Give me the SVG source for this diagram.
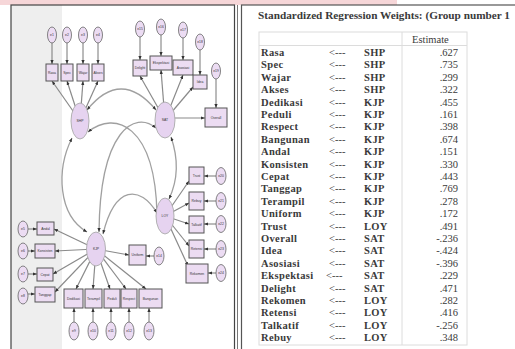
<svg xmlns="http://www.w3.org/2000/svg" width="515" height="349" viewBox="0 0 515 349">
<style>
.err{fill:#ecdcf3;stroke:#666;stroke-width:0.8}
.lat{fill:#e6d3f0;stroke:#aaa;stroke-width:0.9}
.box{fill:#ecdcf2;stroke:#555;stroke-width:1}
.lbl{font-family:"Liberation Sans",Arial,sans-serif;font-size:3.4px;fill:#333;text-anchor:middle}
.p{stroke:#8a8a8a;stroke-width:1.2;fill:none}
.e{stroke:#777;stroke-width:1;fill:none}
.c{stroke:#a0a0a0;stroke-width:1.3;fill:none}
.t{font-family:"Liberation Serif","Times New Roman",serif;font-size:10.5px;fill:#3a3a3a}
.b{font-weight:bold;letter-spacing:0.35px}
.v{text-anchor:end}
.grid{stroke:#dcdcdc;stroke-width:1;fill:none}
</style>
<defs>
<marker id="ah" viewBox="0 0 10 10" refX="10" refY="5" markerWidth="4" markerHeight="4" markerUnits="userSpaceOnUse" orient="auto-start-reverse"><path d="M0,1 L10,5 L0,9 z" fill="#333"/></marker>
</defs>
<rect width="515" height="349" fill="#fff"/>
<rect x="0" y="0" width="397" height="5" fill="#f6d6d8"/>
<rect x="11" y="5" width="51" height="350" fill="#eeeeee"/>
<rect x="11" y="5" width="223.5" height="350" fill="none" stroke="#444" stroke-width="1.2"/>
<line x1="237.5" y1="5" x2="237.5" y2="349" stroke="#777" stroke-width="1"/>
<rect x="241.5" y="5" width="280" height="350" fill="none" stroke="#555" stroke-width="1.2"/>
<g id="connectors">
<line class="e" x1="52" y1="43" x2="52" y2="64" marker-end="url(#ah)"/>
<line class="e" x1="67" y1="43" x2="67" y2="64" marker-end="url(#ah)"/>
<line class="e" x1="83" y1="43" x2="83" y2="64" marker-end="url(#ah)"/>
<line class="e" x1="98" y1="43" x2="98" y2="64" marker-end="url(#ah)"/>
<line class="p" x1="80" y1="121" x2="52" y2="81" marker-end="url(#ah)"/>
<line class="p" x1="80" y1="121" x2="67" y2="81" marker-end="url(#ah)"/>
<line class="p" x1="80" y1="121" x2="83" y2="81" marker-end="url(#ah)"/>
<line class="p" x1="80" y1="121" x2="98" y2="81" marker-end="url(#ah)"/>
<line class="e" x1="140" y1="37" x2="140" y2="60" marker-end="url(#ah)"/>
<line class="e" x1="161" y1="35" x2="161" y2="56" marker-end="url(#ah)"/>
<line class="e" x1="183" y1="38" x2="183" y2="60" marker-end="url(#ah)"/>
<line class="e" x1="200" y1="50" x2="200" y2="75" marker-end="url(#ah)"/>
<line class="e" x1="216" y1="79" x2="216" y2="108" marker-end="url(#ah)"/>
<line class="p" x1="165" y1="120" x2="140" y2="76" marker-end="url(#ah)"/>
<line class="p" x1="165" y1="120" x2="161" y2="70" marker-end="url(#ah)"/>
<line class="p" x1="165" y1="120" x2="183" y2="75" marker-end="url(#ah)"/>
<line class="p" x1="165" y1="120" x2="193" y2="87" marker-end="url(#ah)"/>
<line class="p" x1="165" y1="118" x2="205" y2="118" marker-end="url(#ah)"/>
<line class="e" x1="216" y1="176" x2="204" y2="176" marker-end="url(#ah)"/>
<line class="e" x1="216" y1="201" x2="204" y2="201" marker-end="url(#ah)"/>
<line class="e" x1="216" y1="224" x2="204" y2="224" marker-end="url(#ah)"/>
<line class="e" x1="216" y1="249" x2="204" y2="249" marker-end="url(#ah)"/>
<line class="e" x1="216" y1="273" x2="208" y2="273" marker-end="url(#ah)"/>
<line class="p" x1="165" y1="216" x2="189" y2="181" marker-end="url(#ah)"/>
<line class="p" x1="165" y1="216" x2="189" y2="203" marker-end="url(#ah)"/>
<line class="p" x1="165" y1="216" x2="189" y2="224" marker-end="url(#ah)"/>
<line class="p" x1="165" y1="216" x2="189" y2="246" marker-end="url(#ah)"/>
<line class="p" x1="165" y1="216" x2="188" y2="266" marker-end="url(#ah)"/>
<line class="e" x1="28" y1="229" x2="37" y2="229" marker-end="url(#ah)"/>
<line class="e" x1="28" y1="251" x2="35" y2="251" marker-end="url(#ah)"/>
<line class="e" x1="28" y1="274" x2="37" y2="274" marker-end="url(#ah)"/>
<line class="e" x1="28" y1="294" x2="35" y2="294" marker-end="url(#ah)"/>
<line class="e" x1="74" y1="322" x2="74" y2="308" marker-end="url(#ah)"/>
<line class="e" x1="93" y1="322" x2="93" y2="308" marker-end="url(#ah)"/>
<line class="e" x1="111" y1="322" x2="111" y2="308" marker-end="url(#ah)"/>
<line class="e" x1="129" y1="322" x2="129" y2="308" marker-end="url(#ah)"/>
<line class="e" x1="149" y1="322" x2="149" y2="308" marker-end="url(#ah)"/>
<line class="e" x1="154" y1="256" x2="146" y2="256" marker-end="url(#ah)"/>
<line class="p" x1="96" y1="249" x2="54" y2="229" marker-end="url(#ah)"/>
<line class="p" x1="96" y1="249" x2="55" y2="251" marker-end="url(#ah)"/>
<line class="p" x1="96" y1="249" x2="53" y2="274" marker-end="url(#ah)"/>
<line class="p" x1="96" y1="249" x2="55" y2="292" marker-end="url(#ah)"/>
<line class="p" x1="96" y1="249" x2="76" y2="289" marker-end="url(#ah)"/>
<line class="p" x1="96" y1="249" x2="93" y2="289" marker-end="url(#ah)"/>
<line class="p" x1="96" y1="249" x2="110" y2="289" marker-end="url(#ah)"/>
<line class="p" x1="96" y1="249" x2="126" y2="289" marker-end="url(#ah)"/>
<line class="p" x1="96" y1="249" x2="146" y2="289" marker-end="url(#ah)"/>
<line class="p" x1="96" y1="249" x2="129" y2="255" marker-end="url(#ah)"/>
<path class="c" d="M87,110 Q121,68 156,110" marker-start="url(#ah)" marker-end="url(#ah)"/>
<path class="c" d="M72,138 C56,170 58,215 87,232" marker-start="url(#ah)" marker-end="url(#ah)"/>
<path class="c" d="M88,132 C115,110 155,125 157,214" marker-start="url(#ah)" marker-end="url(#ah)"/>
<path class="c" d="M156,128 C135,110 100,130 99,232" marker-start="url(#ah)" marker-end="url(#ah)"/>
<path class="c" d="M171,137 C179,160 178,180 169,199" marker-start="url(#ah)" marker-end="url(#ah)"/>
<path class="c" d="M103,234 C115,185 140,185 157,213" marker-start="url(#ah)" marker-end="url(#ah)"/>
</g>
<g id="SHP"><ellipse class="lat" cx="80" cy="121" rx="9" ry="18"/><text class="lbl" x="80" y="122">SHP</text></g>
<g id="e1"><ellipse class="err" cx="52" cy="35" rx="4.5" ry="8"/><text class="lbl" x="52" y="36">e1</text></g>
<g id="e2"><ellipse class="err" cx="67" cy="35" rx="4.5" ry="8"/><text class="lbl" x="67" y="36">e2</text></g>
<g id="e3"><ellipse class="err" cx="83" cy="35" rx="4.5" ry="8"/><text class="lbl" x="83" y="36">e3</text></g>
<g id="e4"><ellipse class="err" cx="98" cy="35" rx="4.5" ry="8"/><text class="lbl" x="98" y="36">e4</text></g>
<g id="Rasa"><rect class="box" x="46" y="64" width="12" height="17"/><text class="lbl" x="52" y="73.5">Rasa</text></g>
<g id="Spec"><rect class="box" x="61" y="64" width="12" height="17"/><text class="lbl" x="67" y="73.5">Spec</text></g>
<g id="Wajar"><rect class="box" x="77" y="64" width="12" height="17"/><text class="lbl" x="83" y="73.5">Wajar</text></g>
<g id="Akses"><rect class="box" x="92" y="64" width="12" height="17"/><text class="lbl" x="98" y="73.5">Akses</text></g>
<g id="SAT"><ellipse class="lat" cx="165" cy="120" rx="10" ry="18"/><text class="lbl" x="165" y="121">SAT</text></g>
<g id="e15"><ellipse class="err" cx="140" cy="29" rx="4.5" ry="8"/><text class="lbl" x="140" y="30">e15</text></g>
<g id="e16"><ellipse class="err" cx="161" cy="27" rx="4.5" ry="8"/><text class="lbl" x="161" y="28">e16</text></g>
<g id="e17"><ellipse class="err" cx="183" cy="30" rx="4.5" ry="8"/><text class="lbl" x="183" y="31">e17</text></g>
<g id="e18"><ellipse class="err" cx="200" cy="42" rx="4.5" ry="8"/><text class="lbl" x="200" y="43">e18</text></g>
<g id="e19"><ellipse class="err" cx="216" cy="71" rx="4.5" ry="8"/><text class="lbl" x="216" y="72">e19</text></g>
<g id="Delight"><rect class="box" x="133" y="60" width="14" height="16"/><text class="lbl" x="140" y="69">Delight</text></g>
<g id="Ekspektasi"><rect class="box" x="150" y="56" width="22" height="14"/><text class="lbl" x="161" y="64">Ekspektasi</text></g>
<g id="Asosiasi"><rect class="box" x="173" y="60" width="20" height="15"/><text class="lbl" x="183" y="68.5">Asosiasi</text></g>
<g id="Idea"><rect class="box" x="193" y="75" width="14" height="14"/><text class="lbl" x="200" y="83">Idea</text></g>
<g id="Overall"><rect class="box" x="205" y="108" width="22" height="19"/><text class="lbl" x="216" y="118.5">Overall</text></g>
<g id="LOY"><ellipse class="lat" cx="165" cy="216" rx="9" ry="18"/><text class="lbl" x="165" y="217">LOY</text></g>
<g id="Trust"><rect class="box" x="189" y="167" width="15" height="17"/><text class="lbl" x="196.5" y="176.5">Trust</text></g>
<g id="Rebuy"><rect class="box" x="189" y="192" width="15" height="18"/><text class="lbl" x="196.5" y="202">Rebuy</text></g>
<g id="Talkatif"><rect class="box" x="189" y="216" width="15" height="17"/><text class="lbl" x="196.5" y="225.5">Talkatif</text></g>
<g id="Retensi"><rect class="box" x="189" y="240" width="15" height="18"/><text class="lbl" x="196.5" y="250">Retensi</text></g>
<g id="Rekomen"><rect class="box" x="186" y="264" width="22" height="19"/><text class="lbl" x="197" y="274.5">Rekomen</text></g>
<g id="e20"><ellipse class="err" cx="221" cy="176" rx="5" ry="8.5"/><text class="lbl" x="221" y="177">e20</text></g>
<g id="e21"><ellipse class="err" cx="221" cy="201" rx="5" ry="8.5"/><text class="lbl" x="221" y="202">e21</text></g>
<g id="e22"><ellipse class="err" cx="221" cy="224" rx="5" ry="8.5"/><text class="lbl" x="221" y="225">e22</text></g>
<g id="e23"><ellipse class="err" cx="221" cy="249" rx="5" ry="8.5"/><text class="lbl" x="221" y="250">e23</text></g>
<g id="e24"><ellipse class="err" cx="221" cy="273" rx="5" ry="8.5"/><text class="lbl" x="221" y="274">e24</text></g>
<g id="KJP"><ellipse class="lat" cx="96" cy="249" rx="9.5" ry="17"/><text class="lbl" x="96" y="250">KJP</text></g>
<g id="Andal"><rect class="box" x="37" y="222" width="17" height="13"/><text class="lbl" x="45.5" y="229.5">Andal</text></g>
<g id="Konsisten"><rect class="box" x="35" y="244" width="20" height="14"/><text class="lbl" x="45" y="252">Konsisten</text></g>
<g id="Cepat"><rect class="box" x="37" y="268" width="16" height="13"/><text class="lbl" x="45" y="275.5">Cepat</text></g>
<g id="Tanggap"><rect class="box" x="35" y="287" width="20" height="15"/><text class="lbl" x="45" y="295.5">Tanggap</text></g>
<g id="e5"><ellipse class="err" cx="23" cy="229" rx="5" ry="8"/><text class="lbl" x="23" y="230">e5</text></g>
<g id="e6"><ellipse class="err" cx="23" cy="251" rx="5" ry="8"/><text class="lbl" x="23" y="252">e6</text></g>
<g id="e7"><ellipse class="err" cx="23" cy="274" rx="5" ry="8"/><text class="lbl" x="23" y="275">e7</text></g>
<g id="e8"><ellipse class="err" cx="23" cy="296" rx="5" ry="8"/><text class="lbl" x="23" y="297">e8</text></g>
<g id="Dedikasi"><rect class="box" x="64" y="289" width="19" height="19"/><text class="lbl" x="73.5" y="299.5">Dedikasi</text></g>
<g id="Terampil"><rect class="box" x="85" y="289" width="17" height="19"/><text class="lbl" x="93.5" y="299.5">Terampil</text></g>
<g id="Peduli"><rect class="box" x="104" y="289" width="16" height="19"/><text class="lbl" x="112" y="299.5">Peduli</text></g>
<g id="Respect"><rect class="box" x="121" y="289" width="16" height="19"/><text class="lbl" x="129" y="299.5">Respect</text></g>
<g id="Bangunan"><rect class="box" x="139" y="289" width="23" height="19"/><text class="lbl" x="150.5" y="299.5">Bangunan</text></g>
<g id="e9"><ellipse class="err" cx="74" cy="331" rx="5" ry="9"/><text class="lbl" x="74" y="332">e9</text></g>
<g id="e10"><ellipse class="err" cx="93" cy="331" rx="5" ry="9"/><text class="lbl" x="93" y="332">e10</text></g>
<g id="e11"><ellipse class="err" cx="111" cy="331" rx="5" ry="9"/><text class="lbl" x="111" y="332">e11</text></g>
<g id="e12"><ellipse class="err" cx="129" cy="331" rx="5" ry="9"/><text class="lbl" x="129" y="332">e12</text></g>
<g id="e13"><ellipse class="err" cx="149" cy="331" rx="5" ry="9"/><text class="lbl" x="149" y="332">e13</text></g>
<g id="Uniform"><rect class="box" x="129" y="245" width="17" height="20"/><text class="lbl" x="137.5" y="256">Uniform</text></g>
<g id="e14"><ellipse class="err" cx="159" cy="256" rx="5" ry="9"/><text class="lbl" x="159" y="257">e14</text></g>
<g id="table">
<text class="t" x="258" y="19" font-size="10.5" font-weight="bold" textLength="252" lengthAdjust="spacingAndGlyphs">Standardized Regression Weights: (Group number 1</text>
<rect class="grid" x="259" y="32" width="208" height="313"/>
<line class="grid" x1="259" y1="45.5" x2="467" y2="45.5"/>
<line class="grid" x1="402" y1="32" x2="402" y2="345"/>
<text class="t" x="412" y="42.5" font-size="11.5">Estimate</text>
<g class="t">
<text x="261" y="56" class="b">Rasa</text><text x="329" y="56">&lt;---</text><text x="364" y="56" class="b">SHP</text><text x="458" y="56" class="v">.627</text>
<text x="261" y="68.4" class="b">Spec</text><text x="329" y="68.4">&lt;---</text><text x="364" y="68.4" class="b">SHP</text><text x="458" y="68.4" class="v">.735</text>
<text x="261" y="80.8" class="b">Wajar</text><text x="329" y="80.8">&lt;---</text><text x="364" y="80.8" class="b">SHP</text><text x="458" y="80.8" class="v">.299</text>
<text x="261" y="93.2" class="b">Akses</text><text x="329" y="93.2">&lt;---</text><text x="364" y="93.2" class="b">SHP</text><text x="458" y="93.2" class="v">.322</text>
<text x="261" y="105.6" class="b">Dedikasi</text><text x="329" y="105.6">&lt;---</text><text x="364" y="105.6" class="b">KJP</text><text x="458" y="105.6" class="v">.455</text>
<text x="261" y="118" class="b">Peduli</text><text x="329" y="118">&lt;---</text><text x="364" y="118" class="b">KJP</text><text x="458" y="118" class="v">.161</text>
<text x="261" y="130.4" class="b">Respect</text><text x="329" y="130.4">&lt;---</text><text x="364" y="130.4" class="b">KJP</text><text x="458" y="130.4" class="v">.398</text>
<text x="261" y="142.8" class="b">Bangunan</text><text x="329" y="142.8">&lt;---</text><text x="364" y="142.8" class="b">KJP</text><text x="458" y="142.8" class="v">.674</text>
<text x="261" y="155.2" class="b">Andal</text><text x="329" y="155.2">&lt;---</text><text x="364" y="155.2" class="b">KJP</text><text x="458" y="155.2" class="v">.151</text>
<text x="261" y="167.6" class="b">Konsisten</text><text x="329" y="167.6">&lt;---</text><text x="364" y="167.6" class="b">KJP</text><text x="458" y="167.6" class="v">.330</text>
<text x="261" y="180" class="b">Cepat</text><text x="329" y="180">&lt;---</text><text x="364" y="180" class="b">KJP</text><text x="458" y="180" class="v">.443</text>
<text x="261" y="192.4" class="b">Tanggap</text><text x="329" y="192.4">&lt;---</text><text x="364" y="192.4" class="b">KJP</text><text x="458" y="192.4" class="v">.769</text>
<text x="261" y="204.8" class="b">Terampil</text><text x="329" y="204.8">&lt;---</text><text x="364" y="204.8" class="b">KJP</text><text x="458" y="204.8" class="v">.278</text>
<text x="261" y="217.2" class="b">Uniform</text><text x="329" y="217.2">&lt;---</text><text x="364" y="217.2" class="b">KJP</text><text x="458" y="217.2" class="v">.172</text>
<text x="261" y="229.6" class="b">Trust</text><text x="329" y="229.6">&lt;---</text><text x="364" y="229.6" class="b">LOY</text><text x="458" y="229.6" class="v">.491</text>
<text x="261" y="242" class="b">Overall</text><text x="329" y="242">&lt;---</text><text x="364" y="242" class="b">SAT</text><text x="458" y="242" class="v">-.236</text>
<text x="261" y="254.4" class="b">Idea</text><text x="329" y="254.4">&lt;---</text><text x="364" y="254.4" class="b">SAT</text><text x="458" y="254.4" class="v">-.424</text>
<text x="261" y="266.8" class="b">Asosiasi</text><text x="329" y="266.8">&lt;---</text><text x="364" y="266.8" class="b">SAT</text><text x="458" y="266.8" class="v">-.396</text>
<text x="261" y="279.2" class="b">Ekspektasi</text><text x="326" y="279.2">&lt;---</text><text x="364" y="279.2" class="b">SAT</text><text x="458" y="279.2" class="v">.229</text>
<text x="261" y="291.6" class="b">Delight</text><text x="329" y="291.6">&lt;---</text><text x="364" y="291.6" class="b">SAT</text><text x="458" y="291.6" class="v">.471</text>
<text x="261" y="304" class="b">Rekomen</text><text x="329" y="304">&lt;---</text><text x="364" y="304" class="b">LOY</text><text x="458" y="304" class="v">.282</text>
<text x="261" y="316.4" class="b">Retensi</text><text x="329" y="316.4">&lt;---</text><text x="364" y="316.4" class="b">LOY</text><text x="458" y="316.4" class="v">.416</text>
<text x="261" y="328.8" class="b">Talkatif</text><text x="329" y="328.8">&lt;---</text><text x="364" y="328.8" class="b">LOY</text><text x="458" y="328.8" class="v">-.256</text>
<text x="261" y="341.2" class="b">Rebuy</text><text x="329" y="341.2">&lt;---</text><text x="364" y="341.2" class="b">LOY</text><text x="458" y="341.2" class="v">.348</text>
</g>
</g>
</svg>
